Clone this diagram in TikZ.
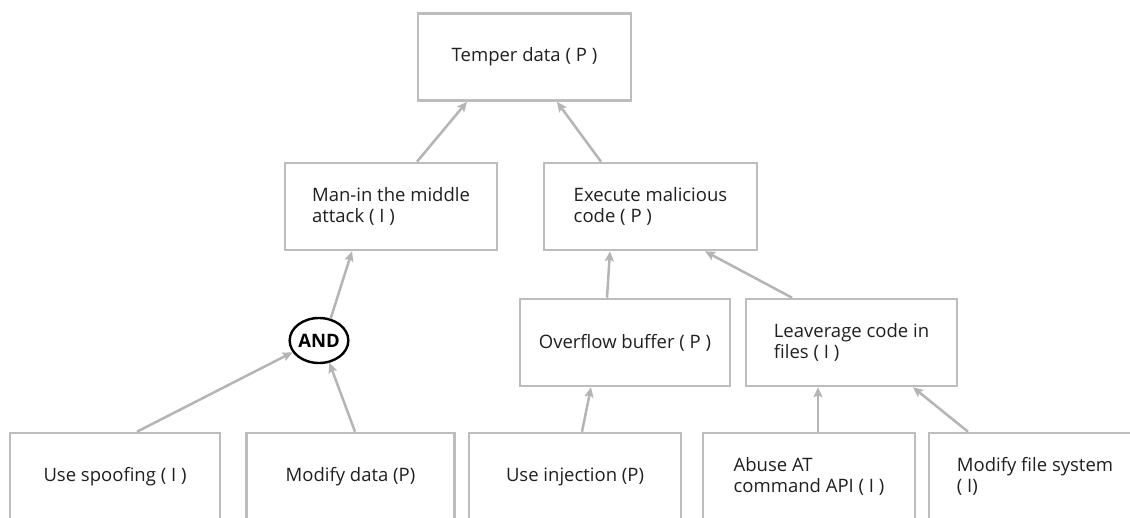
\documentclass[tikz,border=0pt]{standalone}
\usepackage{fontspec}
\setmainfont{Open Sans}
\usetikzlibrary{arrows.meta,shapes.geometric}
\definecolor{boxgray}{HTML}{BDBDBD}
\definecolor{linkgray}{HTML}{B5B5B5}
\definecolor{ink}{HTML}{202020}
\begin{document}
\begin{tikzpicture}[x=1pt,y=-1pt,
  box/.style={draw=boxgray, line width=2.6pt, fill=white,
    minimum width=#1, minimum height=87pt, inner sep=0pt,
    align=left, text=ink, font=\fontsize{18.5}{21}\selectfont},
  box/.default=212pt,
  gate/.style={ellipse, draw=black, line width=2.4pt,
    minimum width=52pt, minimum height=45pt, inner sep=0pt,
    text=black, font=\bfseries\fontsize{18.5}{20}\selectfont},
  link/.style={draw=linkgray, line width=2.5pt,
    -{Stealth[length=10pt,width=9pt,inset=2pt]}}
]
\useasboundingbox (0,0) rectangle (1130,517);
\fill[white] (0,0) rectangle (1130,517);
\begin{scope}
\clip (0,0) rectangle (1130,517);

% goal and sub-goals
\node[box=213pt] (temper)  at (524.5,57)    {Temper data ( P )};
\node[box=212pt] (mitm)    at (391,206.5)   {Man-in the middle\\attack ( I )};
\node[box=213pt] (exec)    at (650.5,206.5) {Execute malicious\\code ( P )};
\node[box=210pt] (overflow) at (625,342.5)  {Overflow buffer ( P )};
\node[box=211pt] (leverage) at (851.5,342.5) {Leaverage code in\\files ( I )};
\node[gate]      (and)     at (319,340.5)   {AND};

% leaf attacks
\node[box=210pt] (spoof)   at (115,476.5)   {Use spoofing ( I )};
\node[box=208pt] (modify)  at (350.5,476.5) {Modify data (P)};
\node[box=212pt] (inject)  at (575,476.5)   {Use injection (P)};
\node[box=212pt] (atcmd)   at (809,476.5)   {Abuse AT\\command API ( I )};
\node[box=212pt] (fsys)    at (1035,476.5)  {Modify file system\\( I)};

% refinement links
\draw[link] ([xshift=26pt]mitm.north)     -- ([xshift=-57.5pt]temper.south);
\draw[link] ([xshift=-49.5pt]exec.north)  -- ([xshift=32.5pt]temper.south);
\draw[link] (and.62)                      -- ([xshift=-39pt]mitm.south);
\draw[link] ([xshift=22pt]spoof.north)    -- (and.204);
\draw[link] ([xshift=4.5pt]modify.north)  -- (and.295);
\draw[link] ([xshift=-18pt]overflow.north) -- ([xshift=-40.5pt]exec.south);
\draw[link] ([xshift=-59.5pt]leverage.north) -- ([xshift=54.5pt]exec.south);
\draw[link] ([xshift=7pt]inject.north)    -- ([xshift=-34pt]overflow.south);
\draw[link] ([xshift=9pt]atcmd.north)     -- ([xshift=-33.5pt]leverage.south);
\draw[link] ([xshift=-67pt]fsys.north)    -- ([xshift=61.5pt]leverage.south);
\end{scope}
\end{tikzpicture}
\end{document}
